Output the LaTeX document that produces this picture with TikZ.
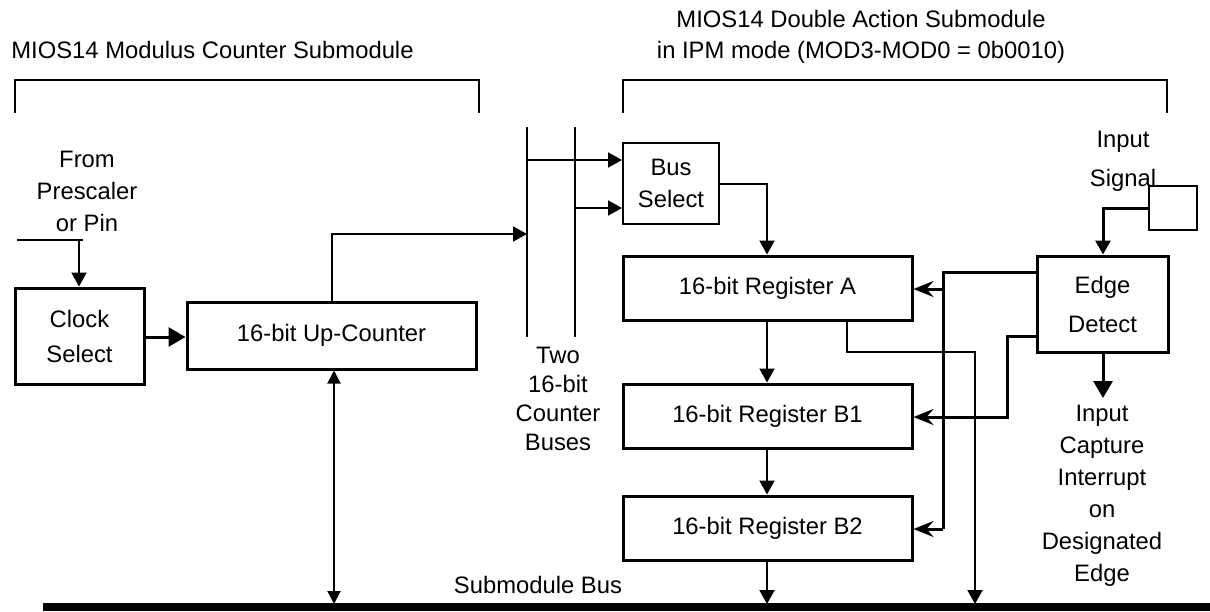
\documentclass[tikz,border=0pt]{standalone}
\usepackage{fontspec}
\setmainfont{Liberation Sans}
\usetikzlibrary{arrows.meta}
\begin{document}
\begin{tikzpicture}[x=0.5pt,y=-0.5pt,
  every node/.style={font=\fontsize{11.9}{16}\selectfont, inner sep=0pt, align=center},
  thickbox/.style={draw, line width=1.5pt, minimum width=#1},
  thinbox/.style={draw, line width=1pt},
  wire/.style={line width=1pt},
  heavy/.style={line width=1.5pt},
  arr/.style={-{Triangle[length=7pt,width=7.5pt]}},
  bigarr/.style={-{Triangle[length=8.5pt,width=9.5pt]}},
  starr/.style={-{Stealth[length=10pt,width=8pt,inset=3.5pt]}},
  dblarr/.style={{Triangle[length=6.5pt,width=6.5pt]}-{Triangle[length=6.5pt,width=6.5pt]}}
]
\useasboundingbox (0,0) rectangle (1210,611);

% titles
\node[anchor=west] (t1) at (11,50) {MIOS14 Modulus Counter Submodule};
\node (t2) at (861,19) {MIOS14 Double Action Submodule};
\node (t3) at (861,52) {in IPM mode (MOD3-MOD0 = 0b0010)};

% brackets
\draw[wire] (15,113) -- (15,80) -- (479,80) -- (479,113);
\draw[wire] (623,113) -- (623,80) -- (1167,80) -- (1167,113);

% boxes
\node[thickbox=64.5pt, minimum height=48pt, font=\fontsize{11.9}{17.5}\selectfont] (clock) at (79.5,336) {Clock\\Select};
\node[thickbox=144.5pt, minimum height=33.5pt] (counter) at (331.5,335.5) {16-bit Up-Counter};
\node[thinbox, minimum width=48pt, minimum height=40.5pt] (bussel) at (671,183.5) {Bus\\Select};
\node[thickbox=144.5pt, minimum height=32pt] (regA) at (767.5,288) {16-bit Register A};
\node[thickbox=144.5pt, minimum height=32pt] (regB1) at (767.5,416) {16-bit Register B1};
\node[thickbox=144.5pt, minimum height=32pt] (regB2) at (767.5,528) {16-bit Register B2};
\node[thickbox=65.5pt, minimum height=48pt, font=\fontsize{11.9}{19.5}\selectfont] (edge) at (1102.5,304) {Edge\\Detect};
\node[draw, line width=0.6pt, minimum width=24pt, minimum height=22pt] (pin) at (1173,208) {};

% labels
\node (from) at (87,191) {From\\Prescaler\\or Pin};
\node[font=\fontsize{11.9}{14.5}\selectfont] (two) at (558,399) {Two\\16-bit\\Counter\\Buses};
\node[font=\fontsize{11.9}{19.5}\selectfont] (insig) at (1123,161) {Input\\Signal};
\node (icap) at (1102,496) {Input\\Capture\\Interrupt\\on\\Designated\\Edge};
\node (sbus) at (538,585) {Submodule Bus};

% submodule bus
\fill (43,603) rectangle (1210,611);

% coordinates
\coordinate (inA) at (17,240);
\coordinate (inB) at (83,240);
\coordinate (inC) at (79,240);
\coordinate (b1t) at (527,127);
\coordinate (b1b) at (527,337);
\coordinate (b2t) at (575,127);
\coordinate (b2b) at (575,337);
\coordinate (cUp) at (332,234);
\coordinate (b1in) at (527,234);
\coordinate (b1o) at (527,160);
\coordinate (b2o) at (575,208);
\coordinate (bsR) at (767,184);
\coordinate (busB2) at (767,604);
\coordinate (busA) at (975,604);
\coordinate (busC) at (334,604);
\coordinate (edTap) at (1103,208);
\coordinate (intr) at (1103,398);

% input from prescaler
\draw[wire] (inA) -- (inB);
\draw[wire, arr] (inC) -- (inC |- clock.north);
\draw[heavy, bigarr] (clock.east |- 0,337) -- (counter.west |- 0,337);

% counter to bus
\draw[wire, arr] (counter.north -| cUp) -- (cUp) -- (b1in);
\draw[wire, dblarr] (counter.south -| busC) -- (busC);

% counter buses
\draw[wire] (b1t) -- (b1b);
\draw[wire] (b2t) -- (b2b);
\draw[wire, arr] (b1o) -- (bussel.west |- b1o);
\draw[wire, arr] (b2o) -- (bussel.west |- b2o);

% register chain
\draw[wire, arr] (bussel.east |- bsR) -- (bsR) -- (regA.north -| bsR);
\draw[wire, arr] (regA.south -| bsR) -- (regB1.north -| bsR);
\draw[wire, arr] (regB1.south -| bsR) -- (regB2.north -| bsR);
\draw[wire, arr] (regB2.south -| bsR) -- (busB2);
\draw[wire, arr] (regA.south -| 847,0) -- (847,352) -- (975,352) -- (busA);

% edge detect
\draw[heavy, arr] (pin.west) -- (edTap) -- (edge.north -| edTap);
\draw[heavy] (edge.west |- 0,272) -- (943,272) -- (943,529);
\draw[heavy, starr] (943,529) -- (regB2.east |- 0,529);
\draw[heavy, starr] (943,289) -- (regA.east |- 0,289);
\draw[heavy, starr] (edge.west |- 0,336) -- (1007,336) -- (1007,417) -- (regB1.east |- 0,417);
\draw[heavy, bigarr] (edge.south -| intr) -- (intr);
\end{tikzpicture}
\end{document}
